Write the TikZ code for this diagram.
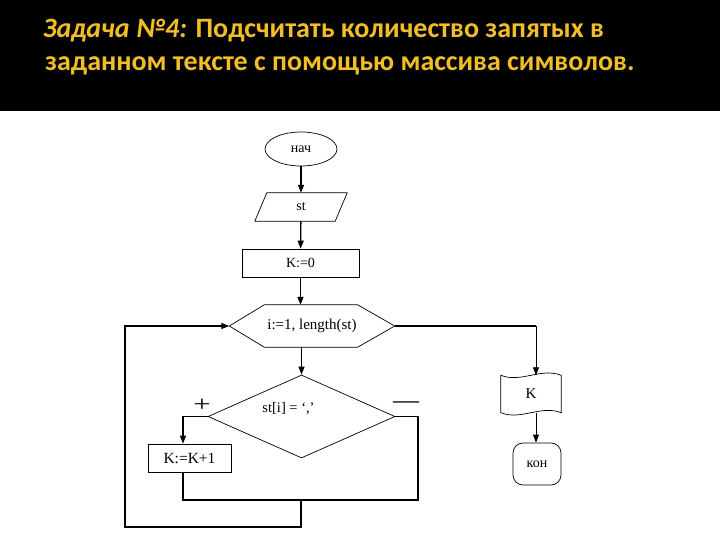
\documentclass[tikz,border=0pt]{standalone}
\usepackage{fontspec}
\setmainfont{Liberation Serif}
\newfontfamily\titlefont{Carlito}
\usetikzlibrary{shapes.geometric,arrows.meta}
\definecolor{titleyellow}{RGB}{242,190,40}

\begin{document}
\begin{tikzpicture}
[
	x=1pt, y=-1pt,
	block/.style={draw,line width=0.7pt,inner sep=0pt,font=\fontsize{14}{16}\selectfont},
	small/.style={font=\fontsize{14}{16}\selectfont},
	flow/.style={line width=1.3pt,-{Triangle[length=8pt,width=6pt]}},
	thinflow/.style={line width=0.8pt,-{Triangle[length=8pt,width=6pt]}},
	loopline/.style={line width=1.1pt},
	heading/.style={anchor=base west,text=titleyellow,inner sep=0pt,font=\titlefont\bfseries\fontsize{28}{32}\selectfont}
]

	% background and title
	\useasboundingbox (0,0) rectangle (720,540);
	\fill[white] (0,0) rectangle (720,540);
	\fill[black] (0,0) rectangle (720,111);
	\node[heading] (title1) at (43,38) {\itshape Задача №4:\upshape{} Подсчитать количество запятых в};
	\node[heading] (title2) at (45,71) {заданном тексте с помощью массива символов.};

	% blocks
	\node[block,small,ellipse,minimum width=72,minimum height=34] (nach) at (301,149) {нач};
	\node[inner sep=0pt,small,minimum width=80,minimum height=28] (st) at (301,207) {st};
	\draw[line width=0.7pt] ([xshift=-6]st.south west) -- ([xshift=6]st.north west)
	  -- ([xshift=6]st.north east) -- ([xshift=-6]st.south east) -- cycle;
	\node[block,minimum width=117,minimum height=28] (k0) at (300.5,263) {K:=0};
	\node[inner sep=0pt,minimum width=165,minimum height=42,font=\fontsize{15}{17}\selectfont] (loop) at (312,326) {i:=1, length(st)};
	\draw[line width=0.7pt] (loop.west) -- ([xshift=35]loop.north west) -- ([xshift=-37]loop.north east)
	  -- (loop.east) -- ([xshift=-37]loop.south east) -- ([xshift=35]loop.south west) -- cycle;
	\node[block,diamond,minimum width=187,minimum height=83,
	      label={[yshift=8,xshift=-13,font=\fontsize{14.5}{16}\selectfont]center:st[i] = ‘,’}] (cond) at (301.5,416.5) {};
	\node[block,minimum width=83,minimum height=28,font=\fontsize{15.5}{17}\selectfont] (inc) at (189.5,458) {K:=K+1};
	\node[inner sep=0pt,minimum width=60,minimum height=37,font=\fontsize{15}{17}\selectfont] (doc) at (531,394) {K};
	\draw[line width=0.7pt] (doc.north west) .. controls +(20,8) and +(-20,-8) .. (doc.north east)
	  -- (doc.south east) .. controls +(-20,-8) and +(20,8) .. (doc.south west) -- cycle;
	\node[block,small,rounded corners=10pt,minimum width=48,minimum height=42] (kon) at (537,464) {кон};

	% branch marks
	\node[font=\fontsize{22}{24}\selectfont,inner sep=0pt] (plus) at (202,405) {\scalebox{1.4}[1]{+}};
	\node[font=\fontsize{26}{28}\selectfont,inner sep=0pt] (minus) at (406,405) {—};

	\coordinate (rjoin) at (418,500);
	\coordinate (merge) at (301,500);
	\coordinate (back) at (125,527);
	\coordinate (corner) at ([xshift=5]doc.north |- loop.east);

	% connectors
	\draw[flow] (nach) -- (st);
	\draw[flow] (st) -- (k0);
	\draw[flow] (k0.south) -- (k0.south |- loop.north);
	\draw[flow] (cond.north |- loop.south) -- (cond.north);
	\draw[loopline,-{Triangle[length=8pt,width=6pt]}] (cond.west) -| ([xshift=-6.5]inc.north);
	\draw[loopline] (cond.east) -| (rjoin) -| ([xshift=-6.5]inc.south);
	\draw[loopline,-{Triangle[length=8pt,width=6pt]}] (merge) |- (back) |- (loop.west);
	\draw[line width=1.2pt] (loop.east) -- (corner);
	\draw[thinflow] (corner) -- ([xshift=5]doc.north);
	\draw[thinflow] ([xshift=5]doc.south) -- ([xshift=5]doc.south |- kon.north);

\end{tikzpicture}
\end{document}
